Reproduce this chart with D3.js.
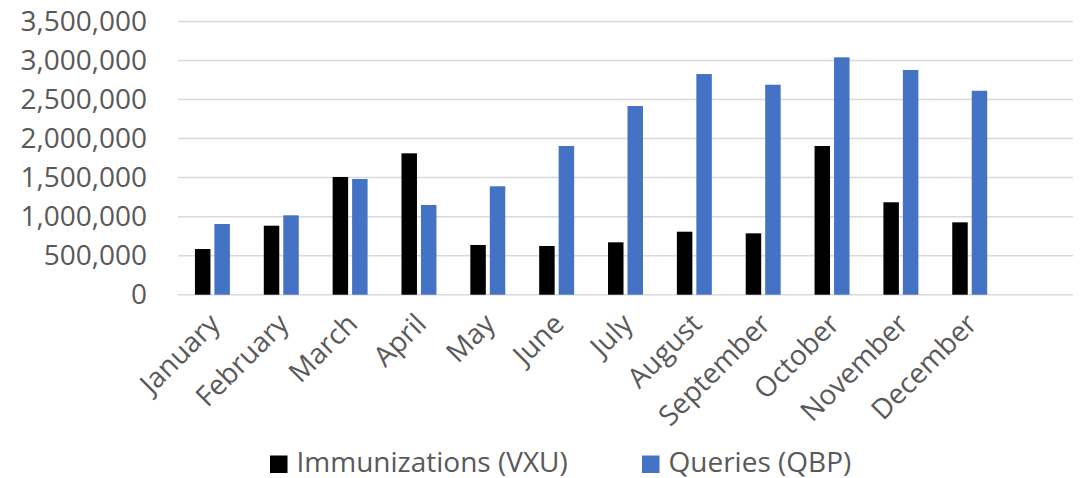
<!DOCTYPE html>
<html>
<head>
<meta charset="utf-8">
<script src="https://cdn.jsdelivr.net/npm/d3@7"></script>
<style>
  body { margin: 0; background: #fff; }
  text { font-family: "Open Sans", sans-serif; fill: #595959; }
</style>
</head>
<body>
<svg width="1082" height="478"></svg>
<script>
// Chart data
const months = ['January', 'February', 'March', 'April', 'May', 'June',
  'July', 'August', 'September', 'October', 'November', 'December'];
const seriesNames = ['Immunizations (VXU)', 'Queries (QBP)'];
const seriesColors = ['#000000', '#4472c4'];
const vxuValues = [585000, 884000, 1508000, 1811000, 637000, 624000,
  671000, 807000, 786000, 1905000, 1184000, 927000];
const qbpValues = [906000, 1017000, 1482000, 1149000, 1389000, 1905000,
  2417000, 2827000, 2690000, 3041000, 2879000, 2613000];
const yTicks = [0, 500000, 1000000, 1500000, 2000000, 2500000, 3000000, 3500000];

const svg = d3.select('svg');

// plot area
const plotLeft = 178;
const plotRight = 1073;
const plotTop = 21.5;
const plotBottom = 294.7;

// 13 slots on the axis, the last one is left empty
const slots = months.concat(['']);

const x0 = d3.scaleBand()
  .domain(slots)
  .range([plotLeft, plotRight])
  .padding(0);

const x1 = d3.scaleBand()
  .domain(seriesNames)
  .range([0, x0.bandwidth()])
  .paddingInner(0.205)
  .paddingOuter(0.87);

const y = d3.scaleLinear()
  .domain([0, 3500000])
  .range([plotBottom, plotTop]);

const fmt = d3.format(',');

// gridlines
svg.append('g')
  .selectAll('line')
  .data(yTicks)
  .join('line')
    .attr('x1', plotLeft)
    .attr('x2', plotRight)
    .attr('y1', d => y(d))
    .attr('y2', d => y(d))
    .attr('stroke', '#d9d9d9')
    .attr('stroke-width', 1.5);

// y labels
const yAxis = d3.axisLeft(y).tickValues(yTicks).tickFormat(fmt).tickSize(0).tickPadding(0);
const yAxisG = svg.append('g')
  .attr('transform', `translate(147,0)`)
  .call(yAxis);
yAxisG.select('.domain').remove();
yAxisG.selectAll('text')
  .attr('font-family', '"Open Sans", sans-serif')
  .attr('font-size', 28)
  .attr('fill', '#595959');

// bars
const rows = months.map((m, i) => ({ month: m, values: [vxuValues[i], qbpValues[i]] }));

const groups = svg.append('g')
  .selectAll('g')
  .data(rows)
  .join('g')
    .attr('transform', d => `translate(${x0(d.month)},0)`);

groups.selectAll('rect')
  .data(d => d.values.map((v, i) => ({ key: seriesNames[i], value: v, color: seriesColors[i] })))
  .join('rect')
    .attr('x', d => x1(d.key))
    .attr('width', x1.bandwidth())
    .attr('y', d => y(d.value))
    .attr('height', d => plotBottom - y(d.value))
    .attr('fill', d => d.color);

// x labels, rotated
svg.append('g')
  .selectAll('text')
  .data(months)
  .join('text')
    .attr('text-anchor', 'end')
    .attr('font-size', 28)
    .attr('dy', '0.35em')
    .attr('transform', d => `translate(${x0(d) + x0.bandwidth() / 2 + 2},${plotBottom + 24}) rotate(-45)`)
    .text(d => d);

// legend
const legendItems = [
  { name: seriesNames[0], color: seriesColors[0], x: 270 },
  { name: seriesNames[1], color: seriesColors[1], x: 642 }
];
const legend = svg.append('g')
  .selectAll('g')
  .data(legendItems)
  .join('g')
    .attr('transform', d => `translate(${d.x},455.5)`);

legend.append('rect')
  .attr('width', 17.5)
  .attr('height', 17.5)
  .attr('fill', d => d.color);

legend.append('text')
  .attr('x', 26.5)
  .attr('y', 16.5)
  .attr('font-size', 28)
  .text(d => d.name);
</script>
</body>
</html>
